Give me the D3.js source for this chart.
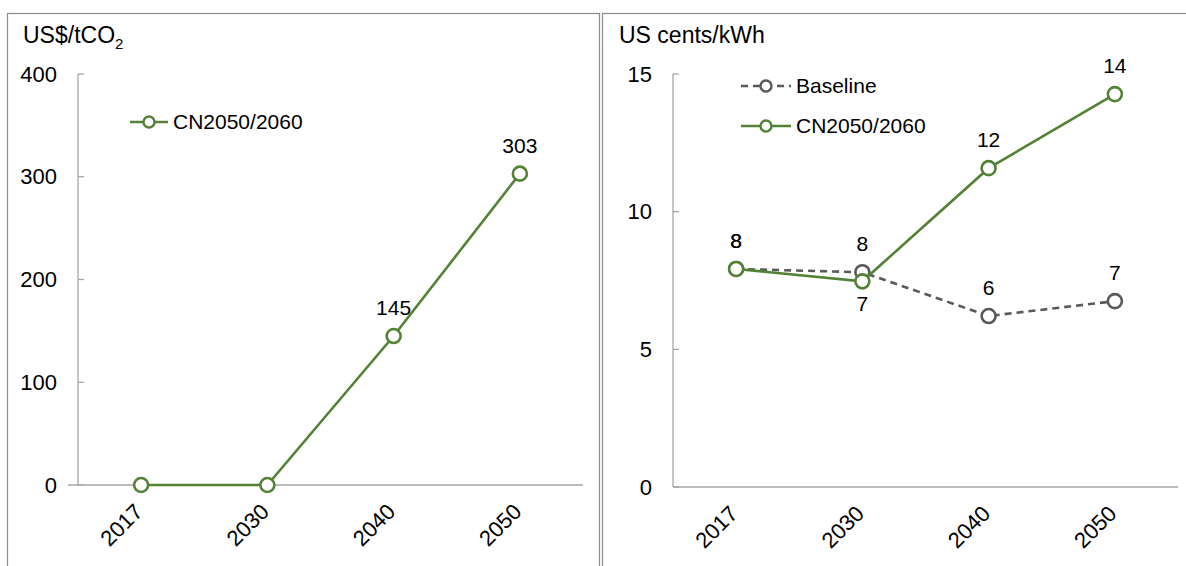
<!DOCTYPE html>
<html>
<head>
<meta charset="utf-8">
<script src="https://cdn.jsdelivr.net/npm/d3@7"></script>
<style>
  html, body { margin: 0; padding: 0; background: #fff; }
  svg { display: block; font-family: "Liberation Sans", Arial, sans-serif; }
</style>
</head>
<body>
<svg id="chart" width="1186" height="566"></svg>
<script>
// Categories shared by both panels
const years = ["2017", "2030", "2040", "2050"];

// Left panel: carbon price, US$/tCO2
const carbonPriceCN = [0, 0, 145, 303];
const carbonTicks = [0, 100, 200, 300, 400];

// Right panel: electricity cost, US cents/kWh
const costBaseline = [7.92, 7.8, 6.21, 6.75];
const costCN = [7.92, 7.47, 11.58, 14.27];
const costTicks = [0, 5, 10, 15];

const GREEN = "#548235";
const GREY = "#595959";
const AXIS = "#a6a6a6";
const FS = 21;

const svg = d3.select("#chart");
const fmt = d3.format(".0f");

// Panel frames
svg.append("rect").attr("x", 7.5).attr("y", 13.5).attr("width", 592).attr("height", 570)
  .attr("fill", "none").attr("stroke", "#8c8c8c").attr("stroke-width", 1.2);
svg.append("rect").attr("x", 602.5).attr("y", 13.5).attr("width", 600).attr("height", 570)
  .attr("fill", "none").attr("stroke", "#8c8c8c").attr("stroke-width", 1.2);

function panel(opts) {
  const g = svg.append("g");
  const x = d3.scaleBand().domain(years).range([opts.x0, opts.x1]);
  const y = d3.scaleLinear().domain(opts.domain).range([opts.y0, opts.y1]);

  // y axis: line with inward ticks
  g.append("line").attr("x1", opts.x0).attr("x2", opts.x0)
    .attr("y1", y(opts.domain[0])).attr("y2", y(opts.domain[1]))
    .attr("stroke", AXIS).attr("stroke-width", 1.3);
  g.selectAll(".ytick").data(opts.ticks).join("line")
    .attr("x1", opts.x0).attr("x2", opts.x0 + 6)
    .attr("y1", d => y(d)).attr("y2", d => y(d))
    .attr("stroke", AXIS).attr("stroke-width", 1.3);
  g.selectAll(".ylab").data(opts.ticks).join("text")
    .attr("x", opts.x0 - 21).attr("y", d => y(d)).attr("dy", "0.35em")
    .attr("text-anchor", "end").attr("font-size", FS + 1).attr("fill", "#000")
    .text(d => d);

  // x axis
  g.append("line").attr("x1", opts.x0 - opts.xExt).attr("x2", opts.x1)
    .attr("y1", y(0)).attr("y2", y(0))
    .attr("stroke", AXIS).attr("stroke-width", 1.3);
  g.selectAll(".xlab").data(years).join("text")
    .attr("transform", d => `translate(${x(d) + x.bandwidth() / 2 + 3},${y(0) + 28}) rotate(-45)`)
    .attr("text-anchor", "end").attr("font-size", FS + 1).attr("fill", "#000")
    .text(d => d);

  // axis title
  const t = g.append("text").attr("x", opts.titleX).attr("y", 43)
    .attr("font-size", FS + 2).attr("fill", "#000");
  t.append("tspan").text(opts.title);
  if (opts.sub) t.append("tspan").attr("font-size", 15).attr("dy", 6).text(opts.sub);

  const cx = d => x(d) + x.bandwidth() / 2;

  opts.series.forEach(s => {
    const pts = years.map((yr, i) => ({ yr, v: s.values[i], i }));
    const line = d3.line().x(d => cx(d.yr)).y(d => y(d.v));
    g.append("path").datum(pts).attr("d", line)
      .attr("fill", "none").attr("stroke", s.color).attr("stroke-width", 2.6)
      .attr("stroke-dasharray", s.dash || null);
    g.selectAll(null).data(pts).join("circle")
      .attr("cx", d => cx(d.yr)).attr("cy", d => y(d.v)).attr("r", 7)
      .attr("fill", "#fff").attr("stroke", s.color).attr("stroke-width", 2.6);
    g.selectAll(null).data(pts.filter(d => s.labelPos[d.i])).join("text")
      .attr("x", d => cx(d.yr))
      .attr("y", d => s.labelPos[d.i] === "below" ? y(d.v) + 30 : y(d.v) - 21)
      .attr("text-anchor", "middle").attr("font-size", FS).attr("fill", "#000")
      .text(d => fmt(d.v));
  });

  // legend
  opts.series.forEach((s, i) => {
    const ly = opts.legendY + i * 40;
    const lx = opts.legendX;
    const len = opts.legendLen;
    g.append("line").attr("x1", lx).attr("x2", lx + len).attr("y1", ly).attr("y2", ly)
      .attr("stroke", s.color).attr("stroke-width", 2.6).attr("stroke-dasharray", s.dash || null);
    g.append("circle").attr("cx", lx + len / 2).attr("cy", ly).attr("r", 5.5)
      .attr("fill", "#fff").attr("stroke", s.color).attr("stroke-width", 2.4);
    g.append("text").attr("x", lx + len + 5).attr("y", ly).attr("dy", "0.35em")
      .attr("font-size", FS).attr("fill", "#000").text(s.name);
  });
}

panel({
  x0: 78, x1: 583, y0: 485, y1: 74, domain: [0, 400], ticks: carbonTicks, xExt: 10,
  title: "US$/tCO", sub: "2", titleX: 23,
  legendX: 130, legendY: 122, legendLen: 38,
  series: [
    { name: "CN2050/2060", values: carbonPriceCN, color: GREEN,
      labelPos: [null, null, "above", "above"] }
  ]
});

panel({
  x0: 673, x1: 1178, y0: 487, y1: 74, domain: [0, 15], ticks: costTicks, xExt: 0,
  title: "US cents/kWh", titleX: 619,
  legendX: 741, legendY: 86, legendLen: 50,
  series: [
    { name: "Baseline", values: costBaseline, color: GREY, dash: "7,5",
      labelPos: ["above", "above", "above", "above"] },
    { name: "CN2050/2060", values: costCN, color: GREEN,
      labelPos: ["above", "below", "above", "above"] }
  ]
});
</script>
</body>
</html>
